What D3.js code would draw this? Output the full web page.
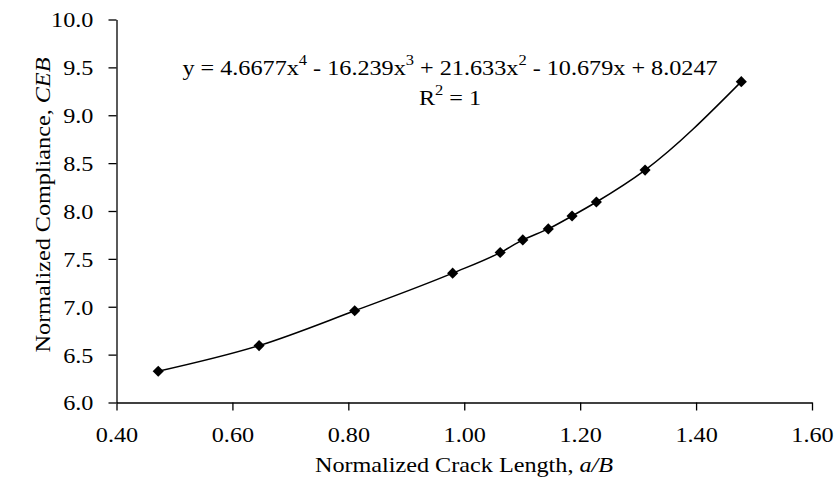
<!DOCTYPE html>
<html>
<head>
<meta charset="utf-8">
<script src="https://cdn.jsdelivr.net/npm/d3@7"></script>
<style>
  body { margin: 0; background: #fff; }
  text { font-family: "Liberation Serif", "Times New Roman", serif; fill: #000; }
</style>
</head>
<body>
<script>
var width = 838, height = 487;

// crack length a/B and compliance CEB
var crackLength = [0.472, 0.646, 0.811, 0.980, 1.062, 1.101, 1.145, 1.186, 1.228, 1.312, 1.478];
var compliance  = [6.326, 6.594, 6.958, 7.351, 7.566, 7.698, 7.813, 7.948, 8.094, 8.427, 9.351];
var xTicks = [0.4, 0.6, 0.8, 1.0, 1.2, 1.4, 1.6];
var yTicks = [6.0, 6.5, 7.0, 7.5, 8.0, 8.5, 9.0, 9.5, 10.0];

var data = crackLength.map(function(d, i) { return {x: d, y: compliance[i]}; });

var stretch = 1.1;  // scanned text is a bit wide

var svg = d3.select("body").append("svg")
    .attr("width", width)
    .attr("height", height);

var x = d3.scaleLinear().domain([0.4, 1.6]).range([116.5, 812]);
var y = d3.scaleLinear().domain([6, 10]).range([402.5, 19.5]);

// axes
var xAxis = svg.append("g")
    .attr("transform", "translate(0," + y(6) + ")")
    .call(d3.axisBottom(x).tickValues(xTicks).tickFormat(d3.format(".2f")).tickSizeInner(8).tickSizeOuter(0).tickPadding(16));
var yAxis = svg.append("g")
    .attr("transform", "translate(" + x(0.4) + ",0)")
    .call(d3.axisLeft(y).tickValues(yTicks).tickFormat(d3.format(".1f")).tickSizeInner(8).tickSizeOuter(0).tickPadding(13));

[xAxis, yAxis].forEach(function(a) {
  a.selectAll("path, line").attr("stroke", "#000").attr("stroke-width", 1.3);
  a.selectAll("text").style("font-size", "22px").attr("fill", "#000")
    .style("font-family", "'Liberation Serif', serif")
    .attr("transform", "scale(" + stretch + ",1)");
});
yAxis.selectAll("text").attr("dy", "0.34em");

// trend curve
var line = d3.line()
    .x(function(d) { return x(d.x); })
    .y(function(d) { return y(d.y); })
    .curve(d3.curveMonotoneX);

svg.append("path")
    .datum(data)
    .attr("d", line)
    .attr("fill", "none")
    .attr("stroke", "#000")
    .attr("stroke-width", 1.5);

// diamond markers
svg.selectAll(".pt")
    .data(data)
    .enter().append("path")
    .attr("class", "pt")
    .attr("d", d3.symbol().type(d3.symbolSquare).size(62))
    .attr("transform", function(d) { return "translate(" + x(d.x) + "," + y(d.y) + ") rotate(45)"; })
    .attr("fill", "#000");

// equation
var eq = svg.append("text")
    .attr("transform", "translate(450,75) scale(" + stretch + ",1)")
    .attr("text-anchor", "middle")
    .style("font-size", "22px");
var parts = [["y = 4.6677x", ""], ["4", "sup"], [" - 16.239x", ""], ["3", "sup"],
             [" + 21.633x", ""], ["2", "sup"], [" - 10.679x + 8.0247", ""]];
parts.forEach(function(p, i) {
  var t = eq.append("tspan").text(p[0]);
  if (p[1] === "sup") t.attr("dy", -10).style("font-size", "15px");
  else if (i > 0) t.attr("dy", 10);
});

var r2 = svg.append("text")
    .attr("transform", "translate(450,105) scale(" + stretch + ",1)")
    .attr("text-anchor", "middle")
    .style("font-size", "22px");
r2.append("tspan").text("R");
r2.append("tspan").text("2").attr("dy", -10).style("font-size", "15px");
r2.append("tspan").text(" = 1").attr("dy", 10);

// axis titles
var xt = svg.append("text")
    .attr("transform", "translate(464,472) scale(" + stretch + ",1)")
    .attr("text-anchor", "middle")
    .style("font-size", "22px");
xt.append("tspan").text("Normalized Crack Length, ");
xt.append("tspan").text("a/B").style("font-style", "italic");

var yt = svg.append("text")
    .attr("transform", "translate(50,205) rotate(-90) scale(" + stretch + ",1)")
    .attr("text-anchor", "middle")
    .style("font-size", "22px");
yt.append("tspan").text("Normalized Compliance, ");
yt.append("tspan").text("CEB").style("font-style", "italic");
</script>
</body>
</html>
